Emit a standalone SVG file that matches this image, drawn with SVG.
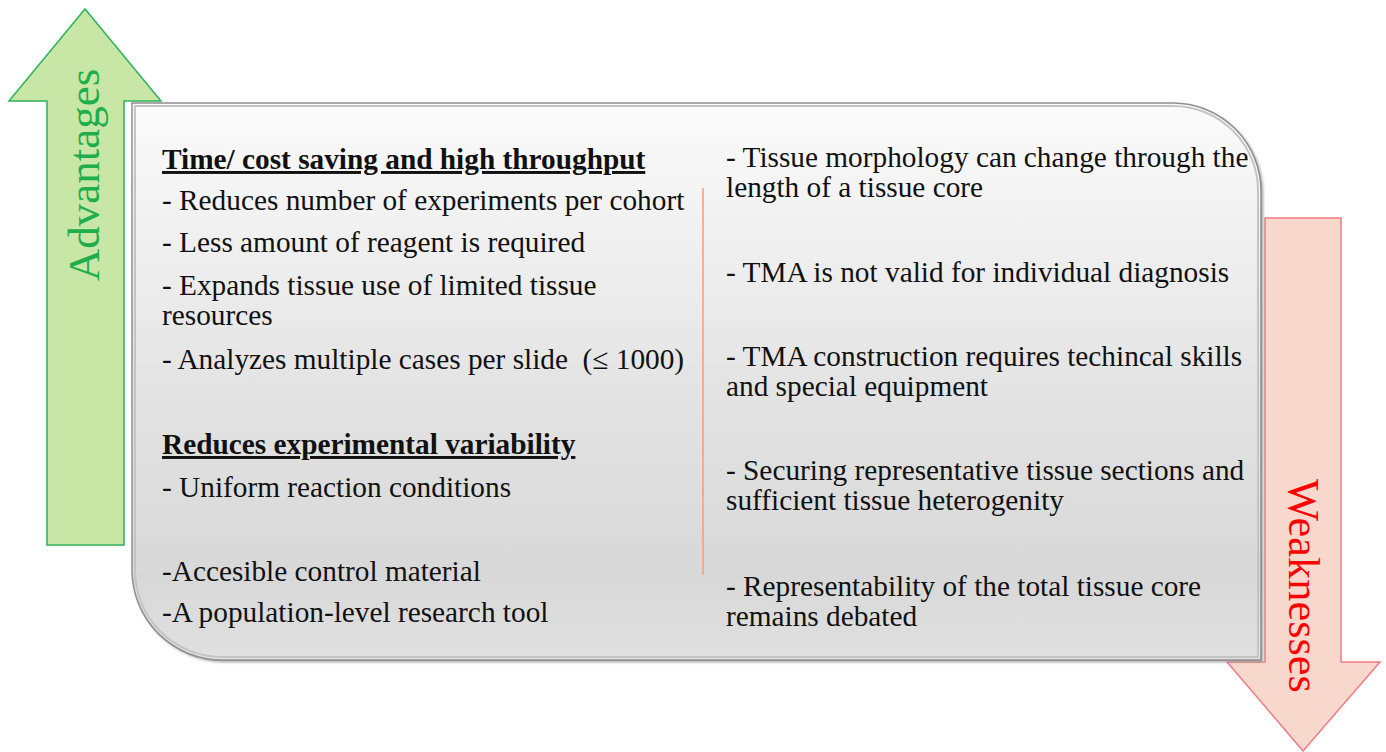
<svg xmlns="http://www.w3.org/2000/svg" width="1386" height="752" viewBox="0 0 1386 752">
<style>
.t{font-family:"Liberation Serif","Times New Roman",serif;font-size:29.3px;fill:#111}
.h{font-weight:bold;text-decoration:underline}
</style>
<defs>
<linearGradient id="bg" x1="0" y1="0" x2="0" y2="1">
<stop offset="0" stop-color="#fbfbfb"/>
<stop offset="0.55" stop-color="#e2e2e2"/>
<stop offset="0.85" stop-color="#d8d8d8"/>
<stop offset="1" stop-color="#e0e0e0"/>
</linearGradient>
<filter id="sh" x="-5%" y="-5%" width="110%" height="110%">
<feGaussianBlur stdDeviation="1.5"/>
</filter>
</defs>
<rect width="1386" height="752" fill="#fff"/>
<g id="advantages-arrow">
<polygon points="47,545 124,545 124,101 161,101 85,9 9,101 47,101" fill="#c8e6a6" stroke="#2db35a" stroke-width="1.5"/>
<text transform="translate(99,175) rotate(-90)" text-anchor="middle" font-family="Liberation Serif, serif" font-size="45" fill="#1fae4c">Advantages</text>
</g>
<g id="weaknesses-arrow">
<polygon points="1265,218 1341,218 1341,662 1380,662 1303,751 1227,662 1265,662" fill="#f8d8cc" stroke="#ef7b83" stroke-width="1.5"/>
<text transform="translate(1289,586) rotate(90)" text-anchor="middle" font-family="Liberation Serif, serif" font-size="44.5" fill="#ff0000">Weaknesses</text>
</g>
<g id="panel">
<path d="M134,105 H1175 A88,88 0 0 1 1263,193 V662 H224 A90,90 0 0 1 134,572 Z" fill="#9a9a9a" filter="url(#sh)"/>
<path d="M132,103 H1173 A88,88 0 0 1 1261,191 V660 H222 A90,90 0 0 1 132,570 Z" fill="url(#bg)" stroke="#8f8f8f" stroke-width="1.5"/>
<path d="M135,106 H1173 A85,85 0 0 1 1258,191 V657 H222 A87,87 0 0 1 135,570 Z" fill="none" stroke="#c4c4c4" stroke-width="2"/>
</g>
<g id="connectors">
<line x1="703" y1="188" x2="703" y2="575" stroke="#f0a070" stroke-width="1.5"/>
</g>
<g id="advantages-text">
<text class="t h" x="162" y="169">Time/ cost saving and high throughput</text>
<text class="t" x="162" y="210">- Reduces number of experiments per cohort</text>
<text class="t" x="162" y="252">- Less amount of reagent is required</text>
<text class="t" x="162" y="295">- Expands tissue use of limited tissue</text>
<text class="t" x="162" y="325">resources</text>
<text class="t" x="162" y="369" xml:space="preserve">- Analyzes multiple cases per slide  (≤ 1000)</text>
<text class="t h" x="162" y="454">Reduces experimental variability</text>
<text class="t" x="162" y="497">- Uniform reaction conditions</text>
<text class="t" x="162" y="581">-Accesible control material</text>
<text class="t" x="162" y="622">-A population-level research tool</text>
</g>
<g id="weaknesses-text">
<text class="t" x="726" y="167">- Tissue morphology can change through the</text>
<text class="t" x="726" y="197">length of a tissue core</text>
<text class="t" x="726" y="282">- TMA is not valid for individual diagnosis</text>
<text class="t" x="726" y="366">- TMA construction requires techincal skills</text>
<text class="t" x="726" y="396">and special equipment</text>
<text class="t" x="726" y="480">- Securing representative tissue sections and</text>
<text class="t" x="726" y="510">sufficient tissue heterogenity</text>
<text class="t" x="726" y="596">- Representability of the total tissue core</text>
<text class="t" x="726" y="626">remains debated</text>
</g>
</svg>
